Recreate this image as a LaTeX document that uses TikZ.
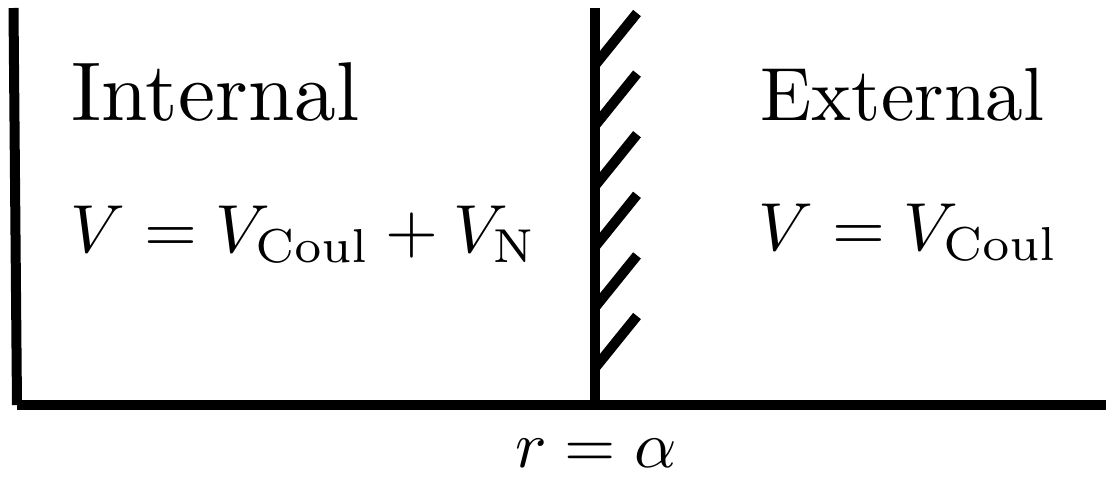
\documentclass[tikz,border=0pt]{standalone}
\usepackage{tikz}
\tikzset{wall/.style={line width=5pt},
  lbl/.style={inner sep=0pt, anchor=base west, scale=4.17},
  eqn/.style={inner sep=0pt, anchor=base west, scale=3.4}}

\begin{document}
\begin{tikzpicture}[x=0.5pt,y=0.5pt]
\useasboundingbox (0,0) rectangle (1106,484);
% axes and wall
\coordinate (top) at (13.5,476);
\coordinate (origin) at (17,79);
\coordinate (end) at (1106,79);
\coordinate (walltop) at (595,476);
\coordinate (wallfoot) at (595,79);
\draw[wall] (top) -- (origin);
\draw[wall] (origin) -- (end);
\draw[wall] (walltop) -- (wallfoot);
% hatching
\foreach \i in {0,...,5}
  \draw[wall] (595,{419-60.6*\i}) -- ++(42,52);
% texts
\node[lbl] (intname) at (70,364) {Internal};
\node[lbl, scale=0.904] (extname) at (759,364) {External};
\node[eqn] (intpot) at (69,232) {$V=V_{\mathrm{Coul}}+V_{\mathrm{N}}$};
\node[eqn] (extpot) at (757,234) {$V=V_{\mathrm{Coul}}$};
\node[eqn, scale=0.97, anchor=base] (radius) at (596,17) {$r=\alpha$};
\end{tikzpicture}
\end{document}
